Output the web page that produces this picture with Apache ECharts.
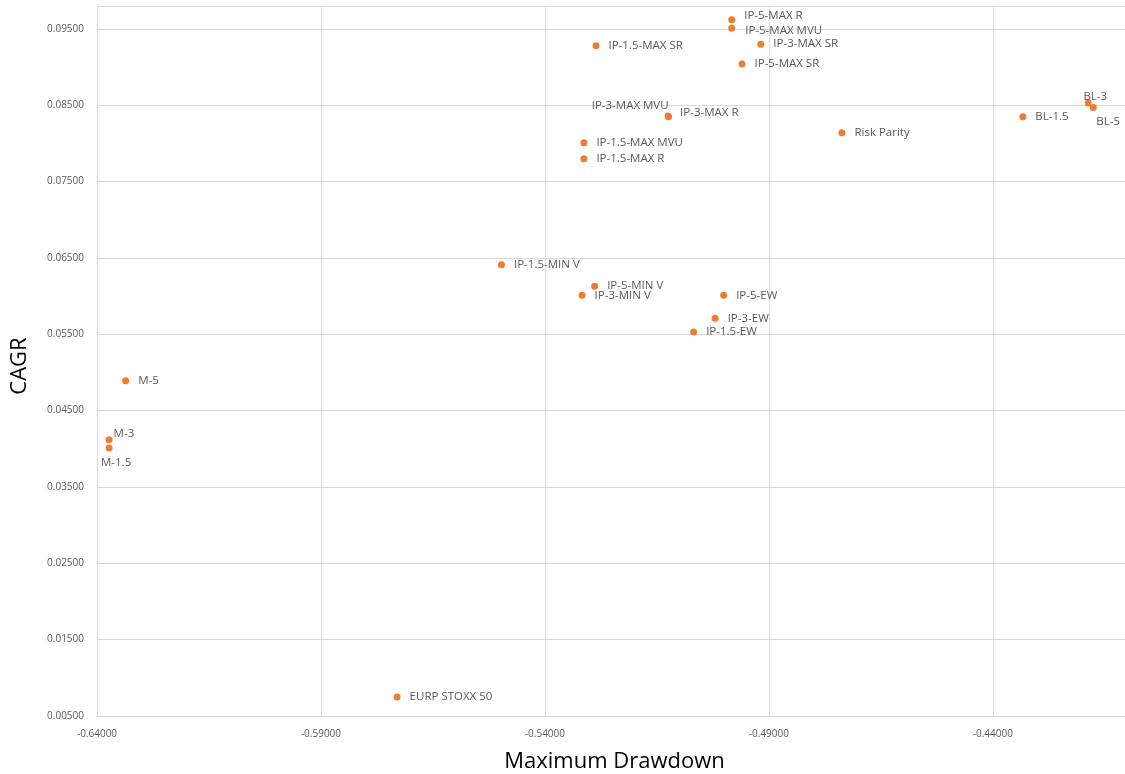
<!DOCTYPE html>
<html>
<head>
<meta charset="utf-8">
<script src="https://cdn.jsdelivr.net/npm/echarts@6/dist/echarts.min.js"></script>
<style>
html,body{margin:0;padding:0;background:#fff;}
#chart{width:1125px;height:774px;}
</style>
</head>
<body>
<div id="chart"></div>
<script>
// ---- data ----
const names = [
  "IP-5-MAX R","IP-5-MAX MVU","IP-3-MAX SR","IP-5-MAX SR",
  "BL-3","BL-5","BL-1.5","Risk Parity",
  "IP-1.5-MAX SR","IP-3-MAX R","IP-3-MAX MVU","IP-1.5-MAX MVU","IP-1.5-MAX R",
  "IP-1.5-MIN V","IP-5-MIN V","IP-3-MIN V","IP-5-EW","IP-3-EW","IP-1.5-EW",
  "M-5","M-3","M-1.5","EURP STOXX 50"
];
const maxDrawdown = [
  -0.4983,-0.4983,-0.4918,-0.4960,
  -0.4187,-0.4176,-0.4333,-0.4737,
  -0.5286,-0.5124,-0.5125,-0.5313,-0.5313,
  -0.5497,-0.5289,-0.5317,-0.5001,-0.5020,-0.5068,
  -0.6336,-0.6373,-0.6373,-0.5730
];
const cagr = [
  0.0962,0.0951,0.0930,0.0904,
  0.0853,0.0847,0.0835,0.0814,
  0.0928,0.0835,0.0836,0.0801,0.0780,
  0.0641,0.0613,0.0601,0.0601,0.0571,0.0553,
  0.0489,0.0412,0.0401,0.0075
];
const xTickStart = -0.64, xTickStep = 0.05;
const yTickStart = 0.005, yTickStep = 0.01;

// ---- label placement (style only) ----
const labelPlacement = {
  "IP-5-MAX R": {position:'right', dy:-4},
  "IP-5-MAX MVU": {position:'right', dx:1, dy:3},
  "IP-3-MAX R": {position:'right', dx:-1, dy:-4},
  "IP-3-MAX MVU": {position:'left', distance:0, dx:4, dy:-10},
  "BL-3": {position:'top', distance:2, dx:7, dy:5},
  "BL-5": {position:'bottom', distance:4, dx:15, dy:1},
  "M-3": {position:'right', distance:0, dx:1, dy:-6},
  "M-1.5": {position:'bottom', distance:4, dx:7, dy:1}
};

const points = names.map((n,i)=>{
  const p = labelPlacement[n] || {position:'right'};
  return {
    name:n,
    value:[maxDrawdown[i], cagr[i]],
    label:{show:true, formatter:n, position:p.position,
      distance: p.distance !== undefined ? p.distance : 9}
  };
});

const chart = echarts.init(document.getElementById('chart'), null, {renderer:'canvas'});
const gridColor = '#d9d9d9';
const textColor = '#595959';
const fam = '"Open Sans", "Liberation Sans", sans-serif';
chart.setOption({
  animation:false,
  backgroundColor:'#ffffff',
  grid:{left:97, right:0, top:6, bottom:58, containLabel:false, outerBoundsMode:'none'},
  xAxis:{
    type:'value', min:xTickStart, max:-0.4105, interval:xTickStep,
    name:'Maximum Drawdown', nameLocation:'middle', nameGap:35,
    nameTextStyle:{color:'#000', fontSize:22, fontFamily:fam, padding:[0,0,0,7]},
    axisLine:{show:true, lineStyle:{color:gridColor, width:1}},
    axisTick:{show:false},
    axisLabel:{color:textColor, fontSize:10, fontFamily:fam, margin:13,
      showMaxLabel:false, formatter:v=>v.toFixed(5)},
    splitLine:{show:true, lineStyle:{color:gridColor, width:1}}
  },
  yAxis:{
    type:'value', min:yTickStart, max:0.098, interval:yTickStep,
    name:'CAGR', nameLocation:'middle', nameGap:66, nameRotate:90,
    nameTextStyle:{color:'#000', fontSize:22, fontFamily:fam, padding:[0,10,0,0]},
    axisLine:{show:true, lineStyle:{color:gridColor, width:1}},
    axisTick:{show:false},
    axisLabel:{color:textColor, fontSize:10, fontFamily:fam, margin:13,
      showMaxLabel:false, formatter:v=>v.toFixed(5)},
    splitLine:{show:true, lineStyle:{color:gridColor, width:1}}
  },
  series:[{
    type:'scatter',
    symbol:'circle',
    symbolSize:7,
    itemStyle:{color:'#ED7D31', opacity:1},
    label:{color:textColor, fontSize:11.5, fontFamily:fam},
    labelLayout:function(params){
      const p = labelPlacement[names[params.dataIndex]] || {};
      return {hideOverlap:false, dx:p.dx || 0, dy:p.dy || 0};
    },
    data:points
  }]
});
</script>
</body>
</html>
